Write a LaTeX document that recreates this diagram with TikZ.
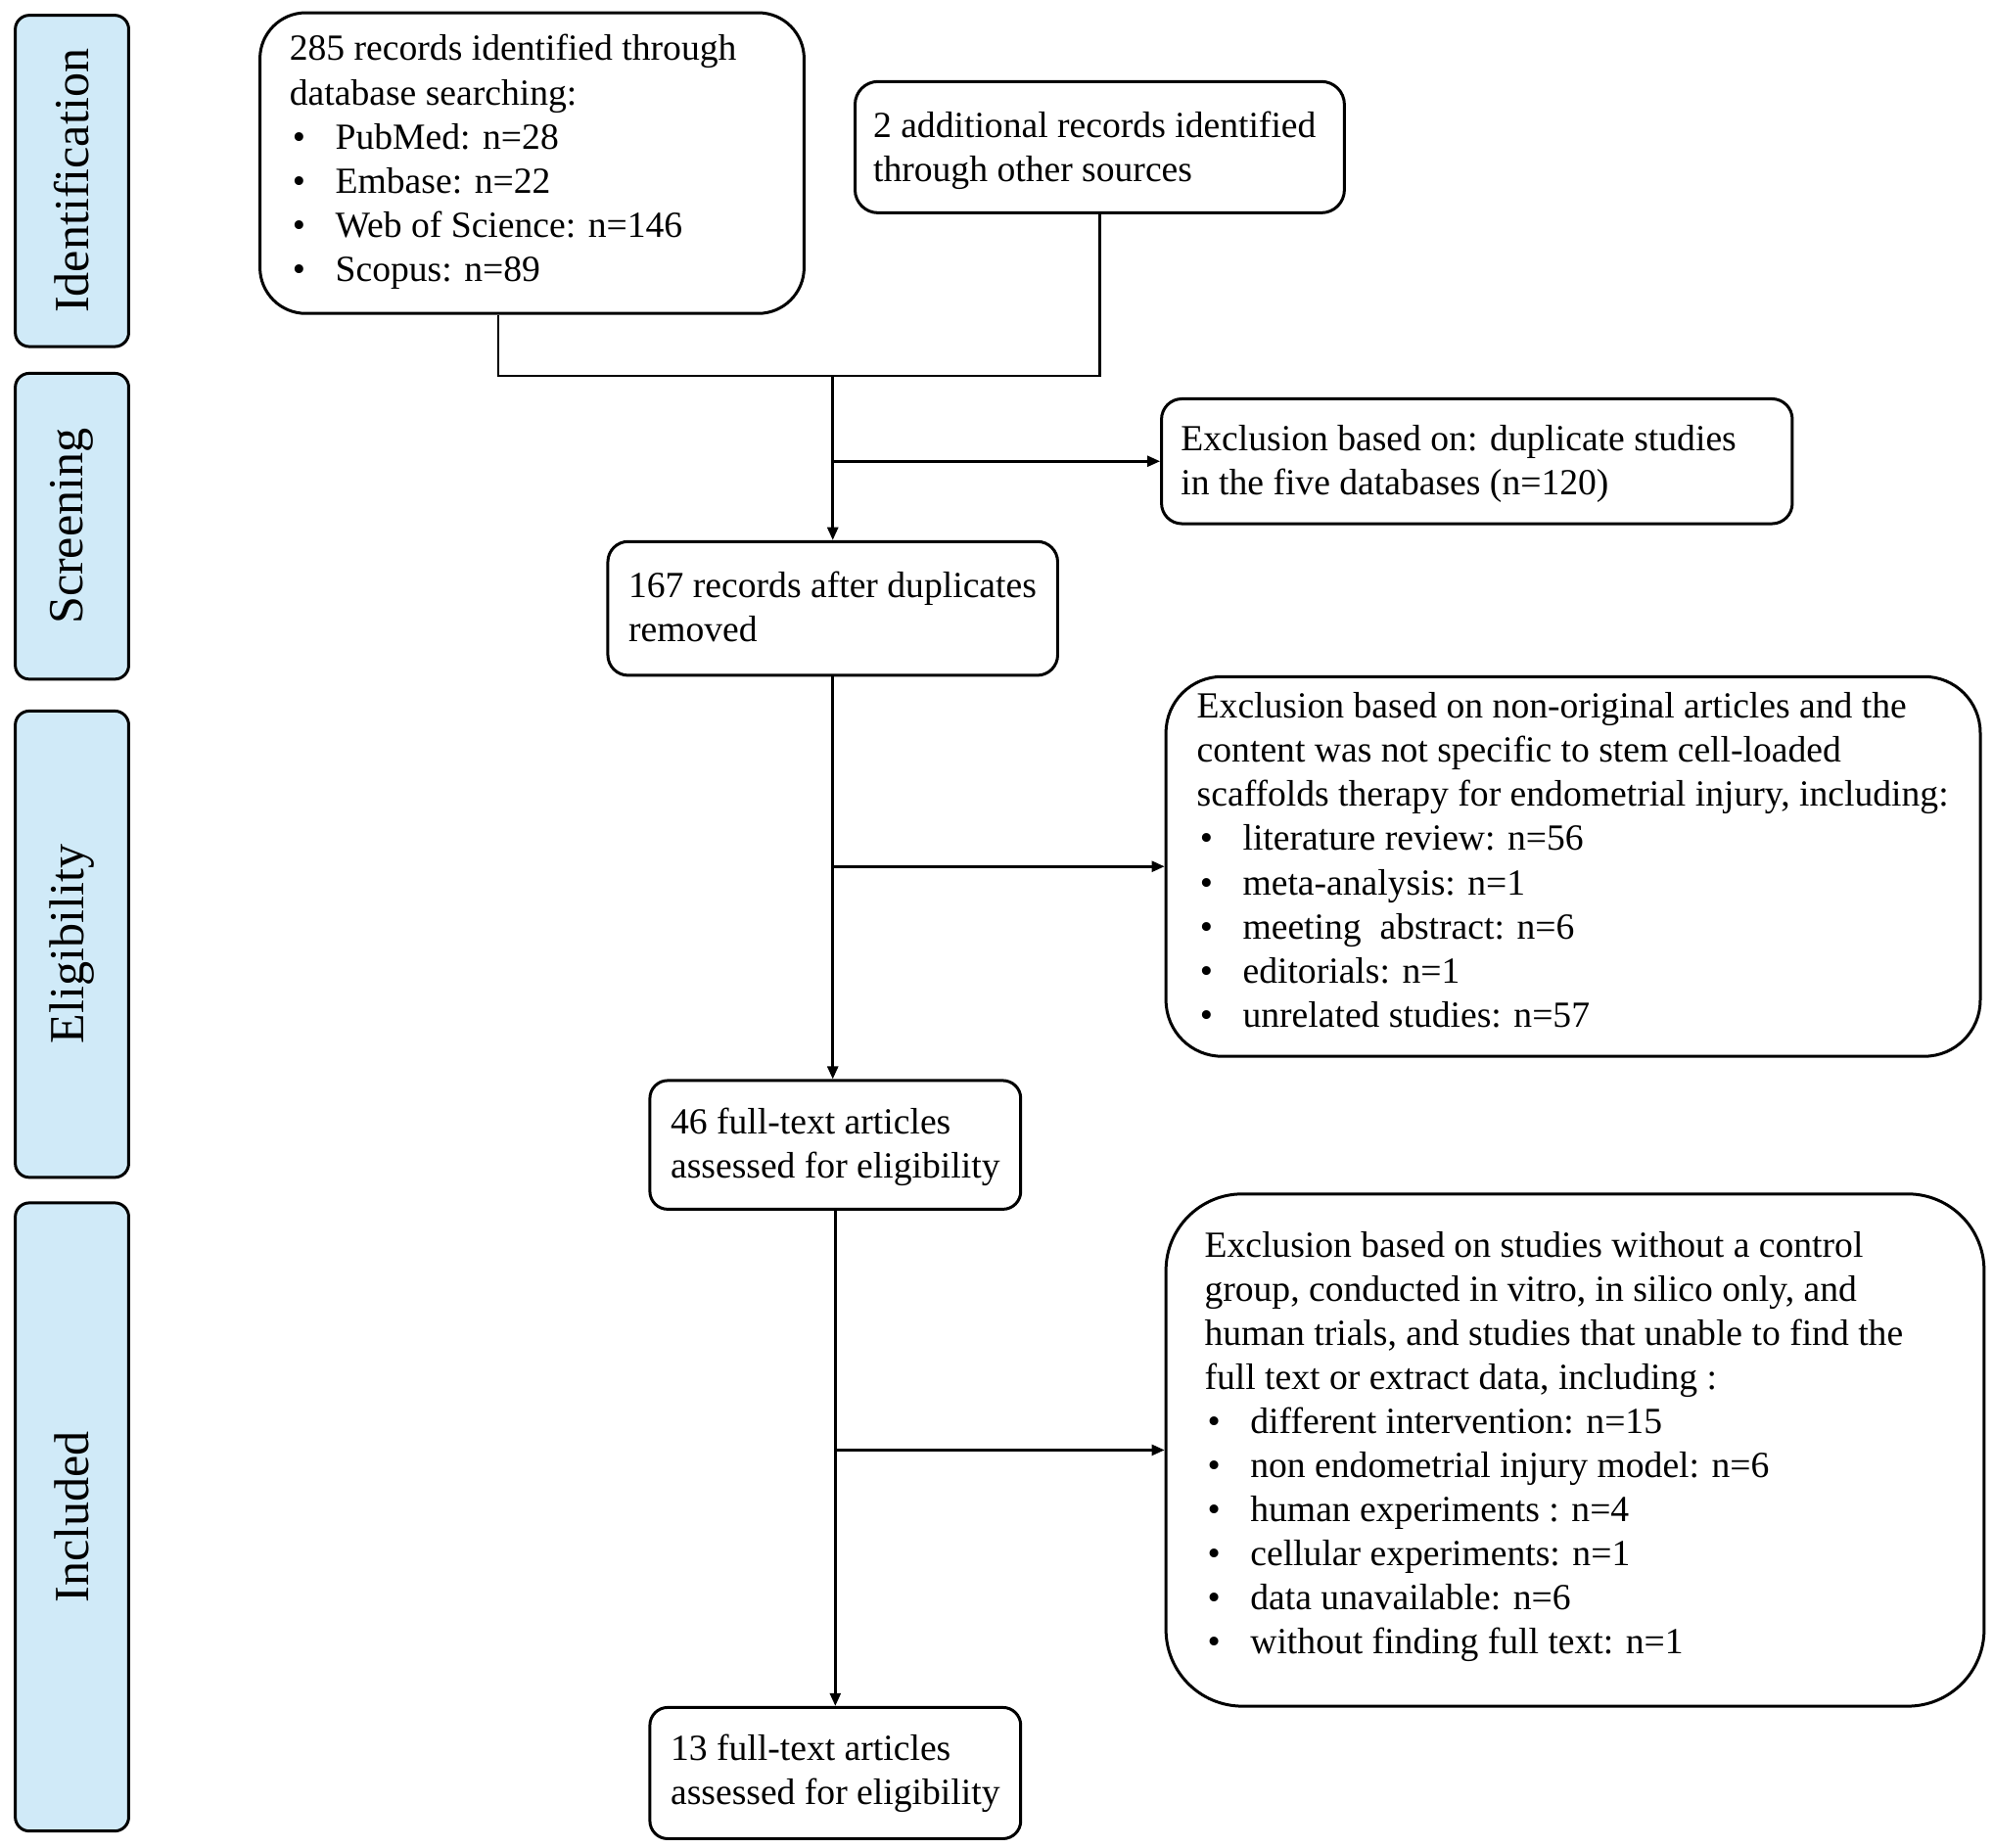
\documentclass[tikz,border=0pt]{standalone}
\usepackage{fontspec}
\setmainfont{Liberation Serif}
\usetikzlibrary{arrows.meta,calc}
\definecolor{barblue}{RGB}{208,234,248}
\newcommand{\bitem}{\makebox[18pt][l]{\hspace{1.2pt}\textbullet}}
\tikzset{
  box/.style={draw=black, line width=1.15pt, rounded corners=#1, inner sep=0pt},
  box/.default=8pt,
  bar/.style={draw=black, line width=1.15pt, fill=barblue, rounded corners=5.5pt, minimum width=44.5pt, inner sep=0pt},
  barlabel/.style={rotate=90, font=\fontsize{19.25pt}{23pt}\selectfont},
  txt/.style={anchor=west, align=left, inner sep=0pt, font=\fontsize{14.45pt}{17.3pt}\selectfont},
  conn/.style={line width=1pt},
  arr/.style={line width=1pt, -{Triangle[length=5pt,width=4.2pt]}}
}
\begin{document}
\begin{tikzpicture}[x=0.5pt,y=-0.5pt]
\useasboundingbox (0,0) rectangle (1564,1450);
% side bars
\node[bar, minimum height=130pt] (bI) at (56.5,142) {};
\node[barlabel] (lI) at (bI.center) {Identification};
\node[bar, minimum height=120pt] (bS) at (56.5,413) {};
\node[barlabel] (lS) at (bS.center) {Screening};
\node[bar, minimum height=183pt] (bE) at (56.5,741) {};
\node[barlabel] (lE) at (bE.center) {Eligibility};
\node[bar, minimum height=246.5pt] (bN) at (56.5,1190.5) {};
\node[barlabel] (lN) at (bN.center) {Included};
% boxes
\node[box=18pt, minimum width=213.5pt, minimum height=118pt] (A) at (417.5,128) {};
\node[txt] (At) at ($(A.west)+(24,-1)$) {285 records identified through\\database searching:\\\bitem PubMed: n=28\\\bitem Embase: n=22\\\bitem Web of Science: n=146\\\bitem Scopus: n=89};
\node[box=9pt, minimum width=192pt, minimum height=51.5pt] (B) at (863,115.5) {};
\node[txt] (Bt) at ($(B.west)+(15,3)$) {2 additional records identified\\through other sources};
\node[box=8pt, minimum width=247.5pt, minimum height=49pt] (X1) at (1159,362) {};
\node[txt] (X1t) at ($(X1.west)+(16,2)$) {Exclusion based on: duplicate studies\\in the five databases (n=120)};
\node[box=8pt, minimum width=176.5pt, minimum height=52.5pt] (C) at (653.5,477.5) {};
\node[txt] (Ct) at ($(C.west)+(17,-1)$) {167 records after duplicates\\removed};
\node[box=22pt, minimum width=319.5pt, minimum height=149pt] (X2) at (1234.5,680) {};
\node[txt] (X2t) at ($(X2.west)+(25,-5)$) {Exclusion based on non-original articles and the\\content was not specific to stem cell-loaded\\scaffolds therapy for endometrial injury, including:\\\bitem literature review: n=56\\\bitem meta-analysis: n=1\\\bitem meeting\ \ abstract: n=6\\\bitem editorials: n=1\\\bitem unrelated studies: n=57};
\node[box=7pt, minimum width=145.5pt, minimum height=50.5pt] (D) at (655.5,898.5) {};
\node[txt] (Dt) at ($(D.west)+(17,2)$) {46 full-text articles\\assessed for eligibility};
\node[box=30pt, minimum width=321pt, minimum height=201pt] (X3) at (1236,1138) {};
\node[txt] (X3t) at ($(X3.west)+(31,-2.5)$) {Exclusion based on studies without a control\\group, conducted in vitro, in silico only, and\\human trials, and studies that unable to find the\\full text or extract data, including :\\\bitem different intervention: n=15\\\bitem non endometrial injury model: n=6\\\bitem human experiments : n=4\\\bitem cellular experiments: n=1\\\bitem data unavailable: n=6\\\bitem without finding full text: n=1};
\node[box=7pt, minimum width=145.5pt, minimum height=51.5pt] (E) at (655.5,1391.5) {};
\node[txt] (Et) at ($(E.west)+(17,0)$) {13 full-text articles\\assessed for eligibility};
% connectors
\coordinate (j1) at (391,295);
\coordinate (j2) at (B.south |- j1);
\coordinate (jm) at (C.north |- j1);
\draw[conn] (A.south -| j1) -- (j1) -- (j2) -- (B.south);
\draw[arr] (jm) -- (C.north);
\coordinate (b1) at (jm |- X1.west);
\draw[arr] (b1) -- (X1.west);
\draw[arr] (C.south) -- (C.south |- D.north);
\coordinate (b2) at (C.south |- X2.west);
\draw[arr] (b2) -- (X2.west);
\draw[arr] (D.south) -- (E.north);
\coordinate (b3) at (D.south |- X3.west);
\draw[arr] (b3) -- (X3.west);
\end{tikzpicture}
\end{document}
